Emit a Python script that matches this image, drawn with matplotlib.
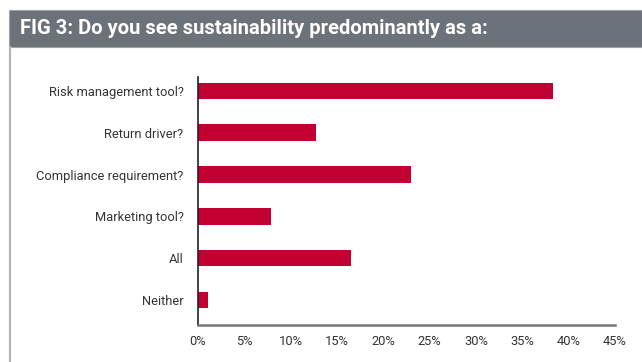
import matplotlib.pyplot as plt
from matplotlib.patches import Rectangle
from matplotlib.lines import Line2D

categories = ['Risk management tool?', 'Return driver?', 'Compliance requirement?',
              'Marketing tool?', 'All', 'Neither']
shares = [38.3, 12.7, 23.0, 7.9, 16.5, 1.1]
xticks = [0, 5, 10, 15, 20, 25, 30, 35, 40, 45]
title = 'FIG 3: Do you see sustainability predominantly as a:'

W, H = 642, 362
fig = plt.figure(figsize=(W / 100, H / 100), dpi=100)
fig.patch.set_facecolor('white')

# grey header band and the frame line down the left side
fig.add_artist(Rectangle((9 / W, 1 - 47 / H), 1 - 9 / W, 37 / H,
                         transform=fig.transFigure, facecolor='#6c7279',
                         edgecolor='#9da2a7', linewidth=0.8))
fig.add_artist(Line2D([10.5 / W, 10.5 / W], [0, 1 - 47 / H],
                      transform=fig.transFigure, color='#b5b5b5', linewidth=1.6))
fig.text(20 / W, 1 - 29 / H, title, color='white', fontsize=14.5,
         fontweight='bold', family='Roboto', va='center', ha='left')

# plot area: x 198..615, y 77..325 px
ax = fig.add_axes([198 / W, 1 - 325 / H, (615 - 198) / W, (325 - 77) / H])
y = list(range(len(categories)))
ax.barh(y, shares, height=0.4, color='#c20032')
ax.set_xlim(0, 44.8)
ax.set_ylim(5.6, -0.335)
ax.set_yticks(y)
ax.set_yticklabels(categories)
ax.set_xticks(xticks)
ax.set_xticklabels([f'{t}%' for t in xticks])

for s in ['top', 'right']:
    ax.spines[s].set_visible(False)
ax.spines['left'].set_color('#222222')
ax.spines['left'].set_linewidth(1.2)
ax.spines['bottom'].set_color('#777777')
ax.spines['bottom'].set_linewidth(1.8)
ax.tick_params(length=0, labelsize=9.3, labelcolor='#333333')
ax.tick_params(axis='y', pad=10.5)
ax.tick_params(axis='x', pad=7)
for lab in ax.get_xticklabels() + ax.get_yticklabels():
    lab.set_family('Roboto')

fig.savefig('out.png', dpi=100)
